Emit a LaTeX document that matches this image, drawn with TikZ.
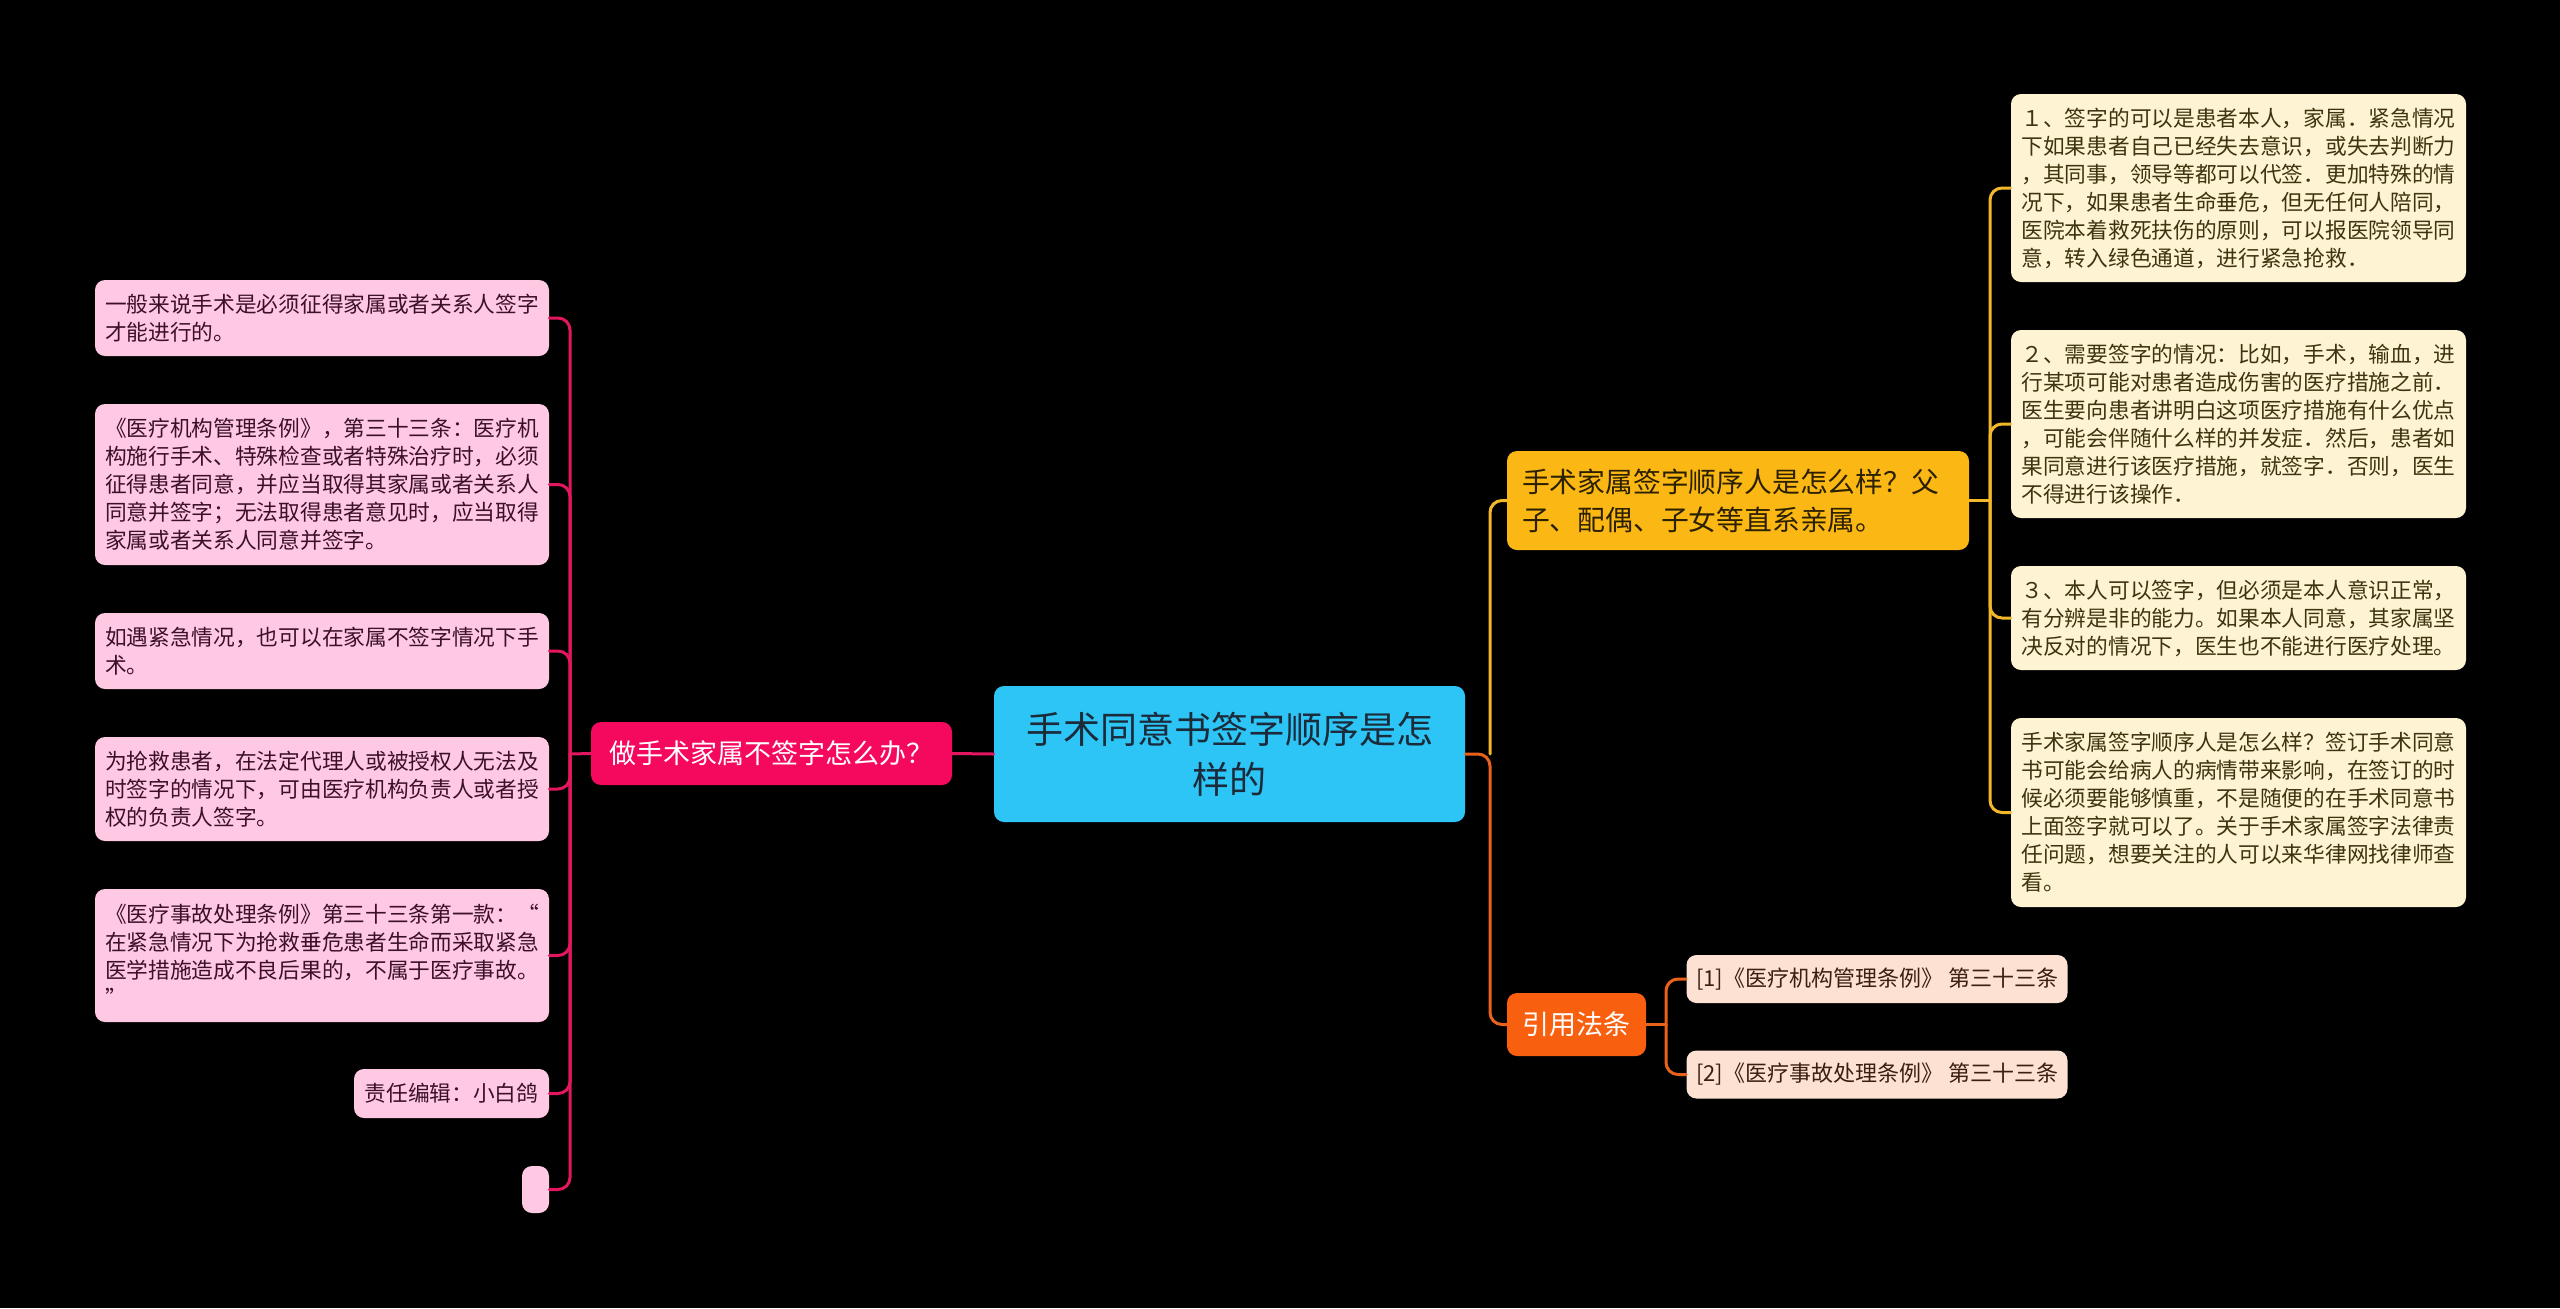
\documentclass[tikz,border=0pt]{standalone}
\usepackage{fontspec}
\setmainfont{Noto Sans CJK SC}
\definecolor{bg}{HTML}{000000}
\definecolor{rootfill}{HTML}{2DC4F6}
\definecolor{roottext}{HTML}{1C2B3A}
\definecolor{pinkbr}{HTML}{F5095F}
\definecolor{pinkleaf}{HTML}{FFC9E3}
\definecolor{pinktext}{HTML}{3B1028}
\definecolor{pinkline}{HTML}{E3175F}
\definecolor{yelbr}{HTML}{FBB714}
\definecolor{yeltext}{HTML}{2B2000}
\definecolor{creamleaf}{HTML}{FEF3D2}
\definecolor{creamtext}{HTML}{3D3510}
\definecolor{yelline}{HTML}{F2B82A}
\definecolor{orbr}{HTML}{F8600F}
\definecolor{refleaf}{HTML}{FDE2D3}
\definecolor{reftext}{HTML}{3A2010}
\definecolor{orline}{HTML}{E8621C}
\tikzset{
  box/.style={rounded corners=5pt, inner ysep=0pt},
  rootbox/.style={box, fill=rootfill, text=roottext, align=center,
    minimum width=235.5pt, minimum height=68pt,
    font=\fontsize{18.5pt}{25pt}\selectfont},
  pbranch/.style={box, fill=pinkbr, text=white, align=center,
    minimum width=180.5pt, minimum height=31.5pt,
    font=\fontsize{13.5pt}{17pt}\selectfont},
  ybranch/.style={box, fill=yelbr, text=yeltext, align=left,
    inner xsep=7.5pt, text width=216pt, minimum height=49.5pt,
    font=\fontsize{13.9pt}{19pt}\selectfont},
  obranch/.style={box, fill=orbr, text=white, align=center,
    minimum width=69.5pt, minimum height=31.5pt,
    font=\fontsize{13.5pt}{17pt}\selectfont},
  pleaf/.style={box, fill=pinkleaf, text=pinktext, align=left,
    inner xsep=5pt, text width=217pt,
    font=\fontsize{10.85pt}{14pt}\selectfont},
  pleafsmall/.style={box, fill=pinkleaf, text=pinktext, align=center,
    inner xsep=0pt, font=\fontsize{10.85pt}{14pt}\selectfont},
  cleaf/.style={box, fill=creamleaf, text=creamtext, align=left,
    inner xsep=5.25pt, text width=217pt,
    font=\fontsize{10.85pt}{14pt}\selectfont},
  rleaf/.style={box, fill=refleaf, text=reftext, align=center,
    minimum width=190.5pt, minimum height=24pt,
    font=\fontsize{11pt}{14pt}\selectfont},
  conn/.style={line width=1.5pt, line cap=round, rounded corners=6pt},
  pconn/.style={conn, draw=pinkline},
  yconn/.style={conn, draw=yelline},
  oconn/.style={conn, draw=orline},
}
\begin{document}
\begin{tikzpicture}[x=0.5pt,y=-0.5pt]
\fill[bg] (0,0) rectangle (2560,1308);
\useasboundingbox (0,0) rectangle (2560,1308);

% root
\node[rootbox] (root) at (1229.5,754) {手术同意书签字顺序是怎\\样的};

% left branch
\node[pbranch] (lb) at (771.5,753.5) {做手术家属不签字怎么办？};

\node[pleaf, minimum height=38pt] (L1) at (322,318)
  {一般来说手术是必须征得家属或者关系人签字\\才能进行的。};
\node[pleaf, minimum height=80.5pt] (L2) at (322,484.5)
  {《医疗机构管理条例》，第三十三条：医疗机\\构施行手术、特殊检查或者特殊治疗时，必须\\征得患者同意，并应当取得其家属或者关系人\\同意并签字；无法取得患者意见时，应当取得\\家属或者关系人同意并签字。};
\node[pleaf, minimum height=38pt] (L3) at (322,651)
  {如遇紧急情况，也可以在家属不签字情况下手\\术。};
\node[pleaf, minimum height=52pt] (L4) at (322,789)
  {为抢救患者，在法定代理人或被授权人无法及\\时签字的情况下，可由医疗机构负责人或者授\\权的负责人签字。};
\node[pleaf, minimum height=66.5pt] (L5) at (322,955.5)
  {《医疗事故处理条例》第三十三条第一款：“\\在紧急情况下为抢救垂危患者生命而采取紧急\\医学措施造成不良后果的，不属于医疗事故。\\”};
\node[pleafsmall, minimum width=97.5pt, minimum height=24.5pt] (L6) at (451.5,1093.5)
  {责任编辑：小白鸽};
\node[pleafsmall, minimum width=13.5pt, minimum height=23.5pt, inner sep=0pt] (L7) at (535.5,1189.5) {};

\coordinate (ls) at (570,754);
\draw[pconn] (root.west) -- (lb.east);
\draw[pconn] (lb.west) -- (ls);
\foreach \n in {L1,L2,L3,L4,L5,L6,L7}{
  \draw[pconn] (ls) |- (\n.east);
}

% right branch 1
\node[ybranch] (fam) at (1738,500.5)
  {手术家属签字顺序人是怎么样？父\\子、配偶、子女等直系亲属。};
\node[cleaf, minimum height=94pt] (R1) at (2238.5,188)
  {１、签字的可以是患者本人，家属．紧急情况\\下如果患者自己已经失去意识，或失去判断力\\，其同事，领导等都可以代签．更加特殊的情\\况下，如果患者生命垂危，但无任何人陪同，\\医院本着救死扶伤的原则，可以报医院领导同\\意，转入绿色通道，进行紧急抢救．};
\node[cleaf, minimum height=94pt] (R2) at (2238.5,424)
  {２、需要签字的情况：比如，手术，输血，进\\行某项可能对患者造成伤害的医疗措施之前．\\医生要向患者讲明白这项医疗措施有什么优点\\，可能会伴随什么样的并发症．然后，患者如\\果同意进行该医疗措施，就签字．否则，医生\\不得进行该操作．};
\node[cleaf, minimum height=52pt] (R3) at (2238.5,618)
  {３、本人可以签字，但必须是本人意识正常，\\有分辨是非的能力。如果本人同意，其家属坚\\决反对的情况下，医生也不能进行医疗处理。};
\node[cleaf, minimum height=94.5pt] (R4) at (2238.5,812.5)
  {手术家属签字顺序人是怎么样？签订手术同意\\书可能会给病人的病情带来影响，在签订的时\\候必须要能够慎重，不是随便的在手术同意书\\上面签字就可以了。关于手术家属签字法律责\\任问题，想要关注的人可以来华律网找律师查\\看。};

% right branch 2
\node[obranch] (cite) at (1576.5,1024.5) {引用法条};
\node[rleaf] (C1) at (1877,979) {[1]《医疗机构管理条例》 第三十三条};
\node[rleaf] (C2) at (1877,1074.5) {[2]《医疗事故处理条例》 第三十三条};

\coordinate (rs) at (1490,754);
\coordinate (ys) at (1990,500.5);
\coordinate (cs) at (1666,1024.5);
\draw[oconn] (root.east) -- (rs) |- (cite.west);
\draw[yconn] (rs) |- (fam.west);
\draw[yconn] (fam.east) -- (ys);
\foreach \n in {R1,R2,R3,R4}{
  \draw[yconn] (ys) |- (\n.west);
}
\draw[oconn] (cite.east) -- (cs);
\foreach \n in {C1,C2}{
  \draw[oconn] (cs) |- (\n.west);
}
\end{tikzpicture}
\end{document}
